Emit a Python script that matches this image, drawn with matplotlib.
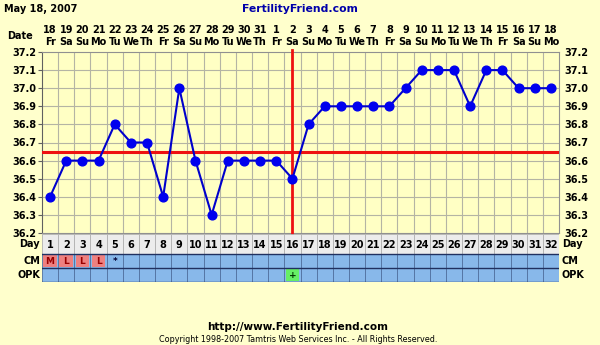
import matplotlib
matplotlib.use('Agg')
import matplotlib.pyplot as plt
from matplotlib.patches import Rectangle

# chart data
days = list(range(1, 33))
dates = [18, 19, 20, 21, 22, 23, 24, 25, 26, 27, 28, 29, 30, 31,
         1, 2, 3, 4, 5, 6, 7, 8, 9, 10, 11, 12, 13, 14, 15, 16, 17, 18]
weekdays = ['Fr', 'Sa', 'Su', 'Mo', 'Tu', 'We', 'Th'] * 4 + ['Fr', 'Sa', 'Su', 'Mo']
temps = [36.4, 36.6, 36.6, 36.6, 36.8, 36.7, 36.7, 36.4, 37.0, 36.6,
         36.3, 36.6, 36.6, 36.6, 36.6, 36.5, 36.8, 36.9, 36.9, 36.9,
         36.9, 36.9, 37.0, 37.1, 37.1, 37.1, 36.9, 37.1, 37.1, 37.0,
         37.0, 37.0]
yticks = [36.2, 36.3, 36.4, 36.5, 36.6, 36.7, 36.8, 36.9, 37.0, 37.1, 37.2]
coverline = 36.65
ovulation_day = 16
cm_days = [1, 2, 3, 4, 5]
cm_marks = ['M', 'L', 'L', 'L', '*']
opk_days = [16]
opk_marks = ['+']

bg = '#ffffcc'
W, H = 600, 345
fig = plt.figure(figsize=(6, 3.45), dpi=100, facecolor=bg)

def fx(px):
    return px / W

def fy(py):
    return 1 - py / H

x0, x1 = 42, 559
top, bot = 52, 233
ax = fig.add_axes([fx(x0), fy(bot), fx(x1 - x0), (bot - top) / H])
ax.set_facecolor('#ffffc4')
ax.set_xlim(0.5, 32.5)
ax.set_ylim(36.2, 37.2)
for d in range(1, 32):
    ax.axvline(d + 0.5, color='#b4b4a4', lw=0.8, zorder=1)
for t in yticks[1:-1]:
    ax.axhline(t, color='#b4b4a4', lw=0.8, zorder=1)
ax.axhline(coverline, color='#ee1111', lw=2.2, zorder=3)
ax.axvline(ovulation_day, ymax=1.01, color='#ee1111', lw=2.0, zorder=3, clip_on=False)
ax.plot(days, temps, color='#0000cc', lw=1.5, marker='o', ms=6.3,
        markerfacecolor='#0000ee', markeredgecolor='#0000ee', zorder=4)
for s in ax.spines.values():
    s.set_color('#909090')
    s.set_linewidth(0.8)
ax.spines['left'].set_color('#606060')
ax.set_xticks([])
ax.set_yticks(yticks)
ax.set_yticklabels(['%.1f' % t for t in yticks], fontsize=7, fontweight='bold')
ax.tick_params(axis='y', length=3, width=0.8, color='#606060', pad=1,
               labelleft=True, labelright=True, right=False)

# date header
for d, dt, wd in zip(days, dates, weekdays):
    ax.text(d, 37.2 + 22 / 181, str(dt), ha='center', va='center', fontsize=7,
            fontweight='bold', clip_on=False)
    ax.text(d, 37.2 + 10 / 181, wd, ha='center', va='center', fontsize=7,
            fontweight='bold', clip_on=False)
fig.text(fx(20), fy(36), 'Date', ha='center', va='center', fontsize=7, fontweight='bold')

# day / CM / OPK table
tb = fig.add_axes([fx(x0), fy(282), fx(x1 - x0), 49 / H])
tb.set_xlim(0.5, 32.5)
tb.set_ylim(282, 233)
tb.axis('off')
rows = [(234, 254, '#ececec', '#b0b0b0'), (254, 268, '#88b8ea', '#5070a0'),
        (268, 282, '#88b8ea', '#5070a0')]
for y_a, y_b, fc, ec in rows:
    for d in days:
        tb.add_patch(Rectangle((d - 0.5, y_a), 1, y_b - y_a, facecolor=fc,
                               edgecolor=ec, lw=0.6))
for y in (254, 268, 282):
    tb.plot([0.5, 32.5], [y, y], color='#203060', lw=1.0)
for d in days:
    tb.text(d, 245, str(d), ha='center', va='center', fontsize=7, fontweight='bold')
for d, m in zip(cm_days, cm_marks):
    if m != '*':
        tb.add_patch(Rectangle((d - 0.5 + 0.08, 255), 0.84, 12, facecolor='#ee8080',
                               edgecolor='none'))
        tb.text(d, 261.5, m, ha='center', va='center', fontsize=6.5,
                fontweight='bold', color='#990000')
    else:
        tb.text(d, 261.5, m, ha='center', va='center', fontsize=6.5,
                fontweight='bold', color='#000033')
for d, m in zip(opk_days, opk_marks):
    tb.add_patch(Rectangle((d - 0.5 + 0.08, 269), 0.84, 12, facecolor='#66ee66',
                           edgecolor='none'))
    tb.text(d, 275.5, m, ha='center', va='center', fontsize=6.5,
            fontweight='bold', color='#003300')

for lbl, y in (('Day', 244), ('CM', 261), ('OPK', 275)):
    fig.text(fx(40), fy(y), lbl, ha='right', va='center', fontsize=7, fontweight='bold')
    fig.text(fx(562), fy(y), lbl, ha='left', va='center', fontsize=7, fontweight='bold')

# header / footer
fig.text(fx(4), fy(9), 'May 18, 2007', ha='left', va='center', fontsize=7,
         fontweight='bold')
fig.text(fx(300), fy(9), 'FertilityFriend.com', ha='center', va='center',
         fontsize=7.8, fontweight='bold', color='#0000aa')
fig.text(fx(298), fy(327), 'http://www.FertilityFriend.com', ha='center',
         va='center', fontsize=7.5, fontweight='bold')
fig.text(fx(298), fy(340), 'Copyright 1998-2007 Tamtris Web Services Inc. - All Rights Reserved.',
         ha='center', va='center', fontsize=5.8)

fig.savefig('out.png', dpi=100, facecolor=bg)
